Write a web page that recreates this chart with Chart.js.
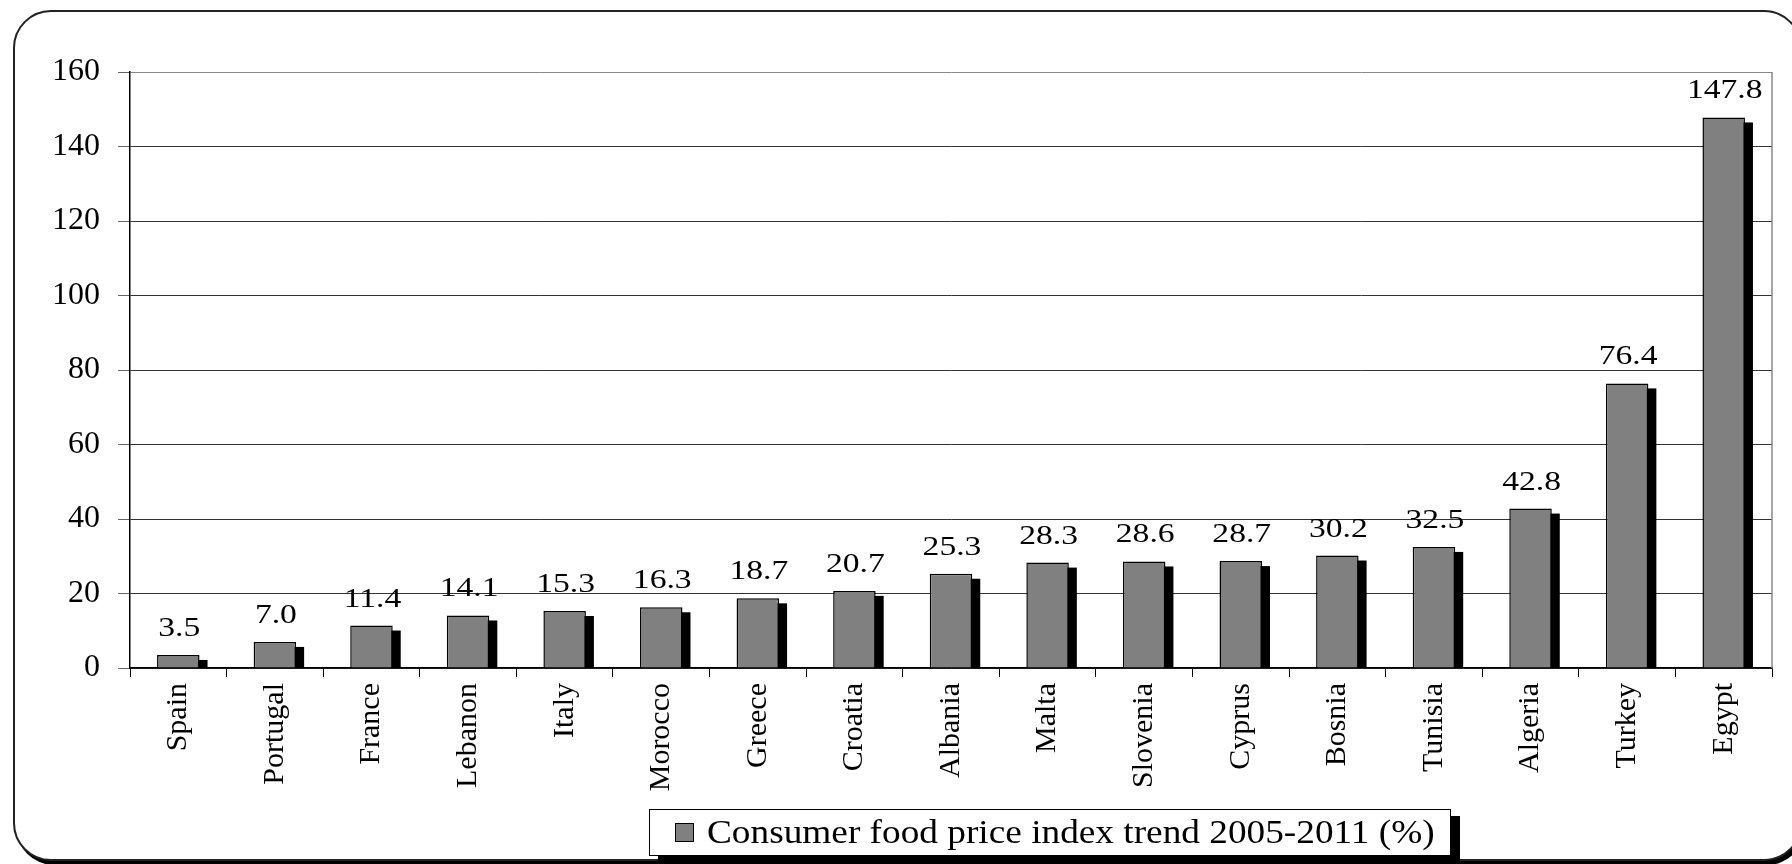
<!DOCTYPE html>
<html>
<head>
<meta charset="utf-8">
<script src="https://cdn.jsdelivr.net/npm/chart.js@4"></script>
<style>
  html, body { margin: 0; padding: 0; background: #fff; overflow: hidden; }
  #wrap { position: relative; width: 1792px; height: 864px; overflow: hidden; }
  #frame { position: absolute; left: 13px; top: 10px; width: 1785px; height: 847px;
           border: 2px solid #222; border-radius: 38px; box-shadow: 3px 4px 0 #000; background: #fff; }
  #c { position: absolute; left: 0; top: 0; }
  #legend { position: absolute; left: 649px; top: 809px; width: 802px; height: 47px;
            border: 1.5px solid #000; box-shadow: 9px 7px 0 #000; background: #fff;
            font-family: "Liberation Serif", "Times New Roman", serif; font-size: 33px; color: #000;
            display: flex; align-items: center; box-sizing: border-box; white-space: nowrap; }
  #legend .sw { width: 19px; height: 19px; background: #808080; border: 1.5px solid #000;
                margin-left: 25px; margin-right: 13px; box-sizing: border-box; flex: none; }
  #legtext { display: inline-block; transform: scaleX(1.13); transform-origin: left center; }
</style>
</head>
<body>
<div id="wrap">
  <div id="frame"></div>
  <canvas id="c" width="1792" height="864"></canvas>
  <div id="legend"><div class="sw"></div><span id="legtext"></span></div>
</div>
<script>
const categories = ["Spain","Portugal","France","Lebanon","Italy","Morocco","Greece","Croatia","Albania","Malta","Slovenia","Cyprus","Bosnia","Tunisia","Algeria","Turkey","Egypt"];
const values = [3.5, 7.0, 11.4, 14.1, 15.3, 16.3, 18.7, 20.7, 25.3, 28.3, 28.6, 28.7, 30.2, 32.5, 42.8, 76.4, 147.8];
const seriesName = "Consumer food price index trend 2005-2011 (%)";
const yTicks = [0, 20, 40, 60, 80, 100, 120, 140, 160];

document.getElementById('legtext').textContent = seriesName;

const FONT = '"Liberation Serif", "Times New Roman", serif';

const shadowPlugin = {
  id: 'barShadow',
  beforeDatasetsDraw(chart) {
    const ctx = chart.ctx;
    const meta = chart.getDatasetMeta(0);
    ctx.save();
    ctx.fillStyle = '#000';
    meta.data.forEach(el => {
      const p = el.getProps(['x','y','base','width'], true);
      const left = p.x - p.width / 2 + 8;
      const top = p.y + 5;
      ctx.fillRect(left, top, p.width, p.base - top);
    });
    ctx.restore();
  }
};

const labelPlugin = {
  id: 'valueLabels',
  afterDatasetsDraw(chart) {
    const ctx = chart.ctx;
    const meta = chart.getDatasetMeta(0);
    const xs = chart.scales.x;
    ctx.save();
    ctx.fillStyle = '#000';
    ctx.font = '28px ' + FONT;
    ctx.textAlign = 'center';
    ctx.textBaseline = 'alphabetic';
    meta.data.forEach((el, i) => {
      const p = el.getProps(['x','y'], true);
      const cx = xs.getPixelForValue(i) + 1;
      ctx.save();
      ctx.translate(cx, p.y - 19);
      ctx.scale(1.2, 1);
      ctx.fillText(values[i].toFixed(1), 0, 0);
      ctx.restore();
    });
    ctx.restore();
  }
};

const borderPlugin = {
  id: 'plotBorder',
  afterDraw(chart) {
    const ctx = chart.ctx;
    const a = chart.chartArea;
    ctx.save();
    ctx.strokeStyle = '#888';
    ctx.lineWidth = 1.5;
    ctx.beginPath();
    ctx.moveTo(a.right, a.top);
    ctx.lineTo(a.right, a.bottom);
    ctx.stroke();
    ctx.restore();
  }
};

new Chart(document.getElementById('c'), {
  type: 'bar',
  data: {
    labels: categories,
    datasets: [{
      label: seriesName,
      data: values,
      backgroundColor: '#808080',
      borderColor: '#000',
      borderWidth: 1.5,
      barPercentage: 0.44,
      categoryPercentage: 1.0
    }]
  },
  options: {
    responsive: false,
    devicePixelRatio: 1,
    animation: false,
    layout: { padding: { left: 0, right: 20, top: 72, bottom: 0 } },
    plugins: { legend: { display: false }, tooltip: { enabled: false } },
    scales: {
      y: {
        min: 0, max: 160,
        afterFit(scale) { scale.width = 130; },
        afterBuildTicks(scale) { scale.ticks = yTicks.map(v => ({ value: v })); },
        ticks: { font: { family: FONT, size: 32 }, color: '#000', padding: 18 },
        grid: {
          color: (ctx) => ctx.tick && ctx.tick.value === 160 ? '#888' : '#333',
          lineWidth: 1,
          tickLength: 12,
          tickColor: '#666'
        },
        border: { display: true, color: '#000', width: 1.5 }
      },
      x: {
        afterFit(scale) { scale.height = 196; },
        ticks: { font: { family: FONT, size: 30 }, color: '#000', minRotation: 90, maxRotation: 90, padding: 6, autoSkip: false },
        grid: { drawOnChartArea: false, drawTicks: true, tickLength: 9, color: '#000', offset: true },
        border: { display: true, color: '#000', width: 1.5 }
      }
    }
  },
  plugins: [shadowPlugin, labelPlugin, borderPlugin]
});
</script>
</body>
</html>
